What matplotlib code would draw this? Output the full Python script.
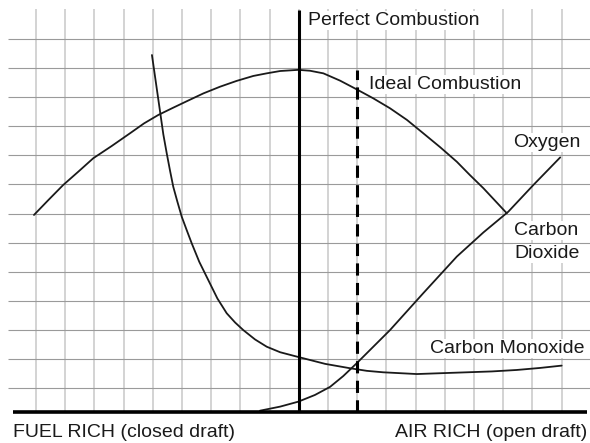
import numpy as np
from matplotlib import pyplot as plt

# Curves, in grid squares (x from left grid line, y from lowest grid line)
co2_x = [-0.07, 0.42, 0.93, 1.45, 1.96, 2.59, 3.22, 3.70, 4.19, 4.68, 5.16, 5.73, 6.30, 6.87, 7.44, 7.90,
         8.36, 8.98, 9.38, 9.84, 10.41, 10.98, 11.55, 12.12, 12.70, 13.26, 13.84, 14.41, 14.86, 15.32, 15.72, 16.12]
co2_y = [5.95, 6.46, 6.98, 7.44, 7.90, 8.32, 8.76, 9.10, 9.39, 9.63, 9.86, 10.13, 10.36, 10.56, 10.73, 10.82,
         10.90, 10.94, 10.91, 10.82, 10.57, 10.27, 9.96, 9.62, 9.22, 8.76, 8.28, 7.78, 7.32, 6.87, 6.44, 6.01]

o2_x = [7.67, 8.36, 8.98, 9.55, 10.07, 10.52, 10.98, 12.12, 13.26, 14.41, 15.32, 16.17, 17.03, 17.95]
o2_y = [-0.78, -0.64, -0.47, -0.24, 0.04, 0.41, 0.85, 1.99, 3.26, 4.52, 5.35, 6.06, 6.98, 7.93]

co_x = [3.97, 4.27, 4.36, 4.48, 4.59, 4.70, 4.84, 4.99, 5.16, 5.33, 5.59, 5.90, 6.21, 6.53, 6.82, 7.10,
        7.50, 7.90, 8.36, 8.93, 9.90, 10.75, 11.33, 11.89, 13.04, 13.89, 14.75, 15.61, 16.46, 17.26, 18.00]
co_y = [11.45, 9.35, 8.72, 8.05, 7.47, 6.92, 6.41, 5.89, 5.43, 4.98, 4.34, 3.71, 3.08, 2.57, 2.25, 1.99,
        1.67, 1.42, 1.23, 1.08, 0.83, 0.68, 0.59, 0.54, 0.48, 0.51, 0.54, 0.57, 0.62, 0.69, 0.77]

perfect_x = 9
ideal_x = 11

grid_cols = np.arange(19)
grid_rows = np.arange(13)

curve_labels = ["Oxygen", "Carbon", "Dioxide", "Carbon Monoxide"]
curve_label_x = [16.34, 16.37, 16.37, 13.49]
curve_label_y = [8.29, 5.26, 4.47, 1.20]

plt.rcParams['font.family'] = ['Liberation Sans', 'DejaVu Sans']

fig = plt.figure(figsize=(5.9, 4.43), dpi=100)
ax = fig.add_axes([0, 0, 1, 1])
ax.set_xlim(-1.233, 18.97)
ax.set_ylim(-1.891, 13.342)
ax.axis('off')

base = -0.825  # the thick bottom axis line
ax.vlines(grid_cols, base, 13.03, color='#c8c8c8', lw=1.1, zorder=1)
ax.hlines(grid_rows, -0.96, 18.97, color='#9a9a9a', lw=0.8, zorder=1)
ax.hlines(base, -0.79, 18.87, color='black', lw=2.6, zorder=4)

ax.vlines(perfect_x, base, 13.0, color='black', lw=2.2, zorder=4)
ax.vlines(ideal_x, base, 10.94, color='black', lw=2.2, linestyles=(0, (4, 2.4)), zorder=4)

for xs, ys in [(co2_x, co2_y), (o2_x, o2_y), (co_x, co_y)]:
    ax.plot(xs, ys, color='#1a1a1a', lw=1.3, zorder=3, solid_capstyle='round', solid_joinstyle='round')

txt = dict(fontsize=14, color='#1a1a1a', va='baseline', zorder=5)
box = dict(facecolor='white', edgecolor='none', pad=0.5)
ax.text(9.32, 12.48, "Perfect Combustion", bbox=box, **txt)
ax.text(11.40, 10.28, "Ideal Combustion", bbox=box, **txt)
for label, lx, ly in zip(curve_labels, curve_label_x, curve_label_y):
    ax.text(lx, ly, label, bbox=box, **txt)

ax.text(-0.79, -1.685, "FUEL RICH (closed draft)", ha='left', **txt)
ax.text(18.87, -1.685, "AIR RICH (open draft)", ha='right', **txt)

plt.savefig("out.png", dpi=100)
